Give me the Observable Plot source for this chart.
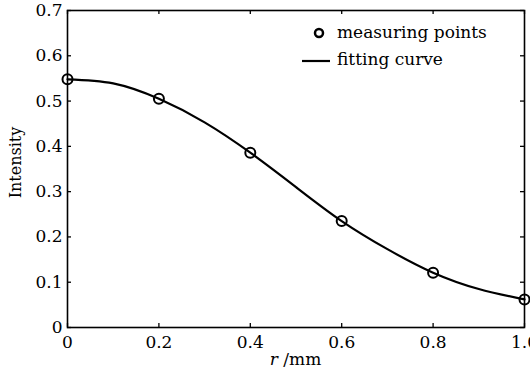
<!DOCTYPE html>
<html><head><meta charset="utf-8">
<script src="https://cdn.jsdelivr.net/npm/d3@7"></script>
<script src="https://cdn.jsdelivr.net/npm/@observablehq/plot@0.6"></script>
<style>
body{margin:0;background:#fff;}
#chart{position:relative;width:530px;height:378px;}
</style></head><body><div id="chart"></div>
<script>
// measured data
const radius = [0, 0.2, 0.4, 0.6, 0.8, 1.0];
const measured = [0.548, 0.505, 0.386, 0.235, 0.121, 0.062];
// fitting curve
const fitR = [0, 0.1, 0.2, 0.3, 0.4, 0.5, 0.6, 0.7, 0.8, 0.9, 1.0];
const fitI = [0.548, 0.539, 0.505, 0.453, 0.386, 0.310, 0.235, 0.173, 0.121, 0.085, 0.062];
const xTicks = [0, 0.2, 0.4, 0.6, 0.8, 1.0];
const xTickLabels = ["0", "0.2", "0.4", "0.6", "0.8", "1.0"];
const yTicks = [0, 0.1, 0.2, 0.3, 0.4, 0.5, 0.6, 0.7];
const yTickLabels = ["0", "0.1", "0.2", "0.3", "0.4", "0.5", "0.6", "0.7"];
const legendLabels = ["measuring points", "fitting curve"];
const yLabel = "Intensity";

const pts = radius.map((r, i) => ({r, v: measured[i]}));
const fit = fitR.map((r, i) => ({r, v: fitI[i]}));

const W = 530, H = 378, mL = 67, mR = 6, mT = 10, mB = 51;
const pw = W - mL - mR, ph = H - mT - mB;
const font = "'DejaVu Serif', serif";

const plot = Plot.plot({
  width: W, height: H,
  marginLeft: mL, marginRight: mR, marginTop: mT, marginBottom: mB,
  style: {fontFamily: font, fontSize: "17px", background: "white", color: "black"},
  x: {domain: [0, 1]},
  y: {domain: [0, 0.7]},
  marks: [
    Plot.axisX(xTicks, {tickSize: 0, tickPadding: 8, tickFormat: d => xTickLabels[xTicks.indexOf(d)], label: null}),
    Plot.axisY(yTicks, {tickSize: 0, tickPadding: 5, tickFormat: d => yTickLabels[yTicks.indexOf(d)], label: null}),
    Plot.tickX(xTicks, {x: d => d, insetTop: ph - 4, stroke: "black", strokeWidth: 1.3}),
    Plot.tickX(xTicks, {x: d => d, insetBottom: ph - 4, stroke: "black", strokeWidth: 1.3}),
    Plot.tickY(yTicks, {y: d => d, insetRight: pw - 4, stroke: "black", strokeWidth: 1.3}),
    Plot.tickY(yTicks, {y: d => d, insetLeft: pw - 4, stroke: "black", strokeWidth: 1.3}),
    Plot.line(fit, {x: "r", y: "v", curve: "natural", stroke: "black", strokeWidth: 2.2}),
    Plot.dot(pts, {x: "r", y: "v", r: 5, stroke: "black", strokeWidth: 2, fill: "none"}),
    Plot.frame({stroke: "black", strokeWidth: 1.6})
  ]
});
document.getElementById("chart").appendChild(plot);

const svg = d3.select(plot);
const xs = plot.scale("x");
const ys = plot.scale("y");
// x-axis label with italic r
const xl = svg.append("text")
  .attr("x", xs.apply(0.5)).attr("y", H - 13)
  .attr("text-anchor", "middle")
  .attr("font-family", font).attr("font-size", 17).attr("fill", "black");
xl.append("tspan").attr("font-style", "italic").text("r");
xl.append("tspan").text(" /mm");

// y-axis label
svg.append("text")
  .attr("transform", `translate(15,${ys.apply(0.35) - 6}) rotate(-90)`)
  .attr("text-anchor", "middle").attr("dy", "0.35em")
  .attr("font-family", font).attr("font-size", 16).attr("fill", "black")
  .text(yLabel);

// legend
const lg = svg.append("g").attr("font-family", font).attr("font-size", 17).attr("fill", "black").attr("text-anchor", "start");
lg.append("circle").attr("cx", 319).attr("cy", 33).attr("r", 4).attr("fill", "none").attr("stroke", "black").attr("stroke-width", 2.5);
lg.append("text").attr("x", 337).attr("y", 32).attr("dy", "0.35em").text(legendLabels[0]);
lg.append("line").attr("x1", 302).attr("x2", 330).attr("y1", 61).attr("y2", 61).attr("stroke", "black").attr("stroke-width", 2.2);
lg.append("text").attr("x", 337).attr("y", 59).attr("dy", "0.35em").text(legendLabels[1]);
</script>
</body></html>
